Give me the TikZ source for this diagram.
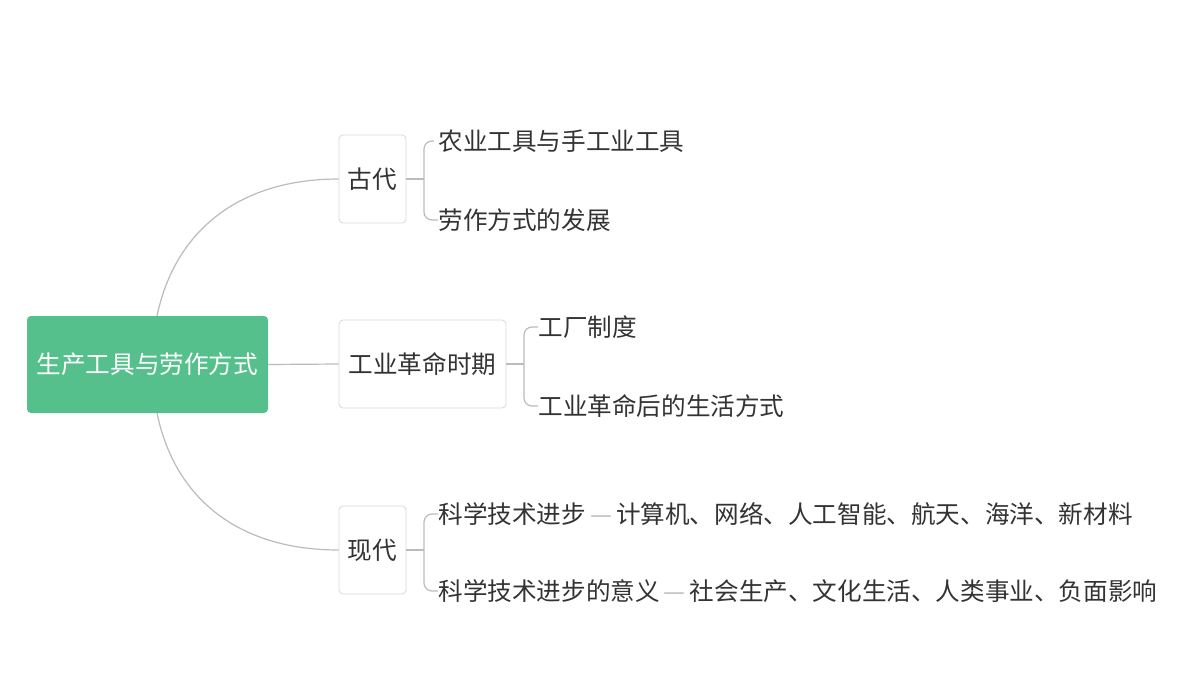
\documentclass[tikz,border=0pt]{standalone}
\usepackage{fontspec}
\newfontfamily\cjk{Noto Sans CJK SC}
\definecolor{rootg}{HTML}{55C08B}
\definecolor{linec}{HTML}{BBBBBB}
\definecolor{boxb}{HTML}{D8D8D8}
\definecolor{txt}{HTML}{333333}
\begin{document}
\begin{tikzpicture}[x=0.5pt,y=-0.5pt,
  every node/.style={font=\cjk\fontsize{12.3}{14}\selectfont, text=txt},
  root/.style={fill=rootg, rounded corners=2pt, text=white, minimum width=120.5pt, minimum height=48.5pt, inner sep=0pt},
  sub/.style={draw=boxb, line width=0.4pt, rounded corners=2pt, fill=white, minimum height=44pt, inner sep=4pt},
  leaf/.style={anchor=west, inner sep=0pt},
  conn/.style={draw=linec, line width=0.6pt},
  dashc/.style={text=linec}]
\useasboundingbox (0,0) rectangle (1200,675);
\node[root] (r) at (147.5,364.5) {生产工具与劳作方式};
\node[sub, minimum width=33.5pt] (a) at (372.5,179) {古代};
\node[sub, minimum width=83.5pt] (b) at (422.5,364) {工业革命时期};
\node[sub, minimum width=33.5pt] (c) at (372.5,550) {现代};
\coordinate (rt) at (157,316);
\coordinate (rb) at (157,413);
\draw[conn] (rt) .. controls (175,230) and (240,179) .. (a.west);
\draw[conn] (r.east) -- (b.west);
\draw[conn] (rb) .. controls (175,500) and (240,550) .. (c.west);
\node[leaf] (a1) at (438,141) {农业工具与手工业工具};
\node[leaf] (a2) at (438,220) {劳作方式的发展};
\node[leaf] (b1) at (538,327) {工厂制度};
\node[leaf] (b2) at (538,406) {工业革命后的生活方式};
\node[leaf] (c1) at (438,514) {科学技术进步\,{\color{linec}—}\,计算机、网络、人工智能、航天、海洋、新材料};
\node[leaf] (c2) at (438,591) {科学技术进步的意义\,{\color{linec}—}\,社会生产、文化生活、人类事业、负面影响};
\draw[conn] (a.east) -- (424,179);
\draw[conn, rounded corners=4pt] (a1.west) ++(-4,0) coordinate (a1e) -- (424,141) -- (424,220) -- (a2.west);
\draw[conn] (b.east) -- (524,364);
\draw[conn, rounded corners=4pt] (b1.west) -- (524,327) -- (524,406) -- (b2.west);
\draw[conn] (c.east) -- (424,550);
\draw[conn, rounded corners=4pt] (c1.west) -- (424,514) -- (424,591) -- (c2.west);
\end{tikzpicture}
\end{document}
